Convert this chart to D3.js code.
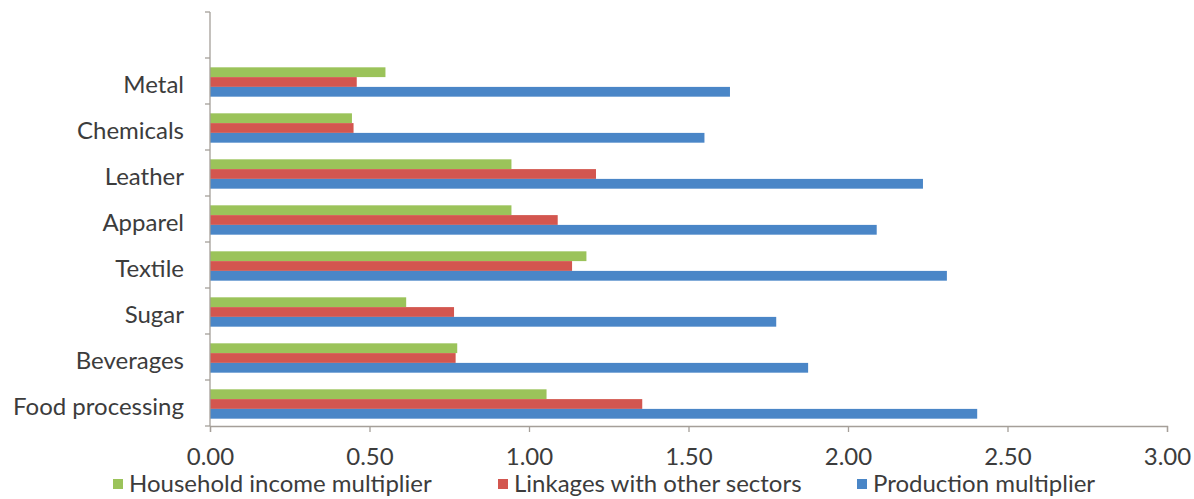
<!DOCTYPE html>
<html>
<head>
<meta charset="utf-8">
<script src="https://cdn.jsdelivr.net/npm/d3@7"></script>
<style>
  html, body { margin: 0; padding: 0; background: #ffffff; }
  svg { display: block; }
  text { font-family: Lato, "Open Sans", sans-serif; fill: #3c3c3c; }
</style>
</head>
<body>
<svg id="chart" width="1194" height="499"></svg>
<script>
// Sectors, listed top to bottom
const categories = ["Metal", "Chemicals", "Leather", "Apparel", "Textile", "Sugar", "Beverages", "Food processing"];

// Series, drawn top to bottom inside each sector
const seriesNames = ["Household income multiplier", "Linkages with other sectors", "Production multiplier"];
const householdIncome = [0.55, 0.445, 0.945, 0.945, 1.18, 0.615, 0.775, 1.055];
const linkages        = [0.46, 0.45, 1.21, 1.09, 1.135, 0.765, 0.77, 1.355];
const production      = [1.63, 1.55, 2.235, 2.09, 2.31, 1.775, 1.875, 2.405];
const seriesValues = [householdIncome, linkages, production];
const seriesColors = ["#9bc35a", "#d3564f", "#4a86c7"];

const xTicks = [0, 0.5, 1, 1.5, 2, 2.5, 3];

const svg = d3.select("#chart");
const axisColor = "#a59f99";
const fontSize = "24px";

const x = d3.scaleLinear().domain([0, 3]).range([210, 1167]);
const y = d3.scaleBand().domain(categories).range([58, 426]).paddingInner(0).paddingOuter(0);
const ySub = d3.scaleBand().domain(seriesNames).range([0, y.bandwidth()]).paddingInner(0).paddingOuter(0.85);

// Bars
const rows = categories.map((c, i) => ({ cat: c, vals: seriesNames.map((s, k) => ({ s, k, v: seriesValues[k][i] })) }));
const g = svg.append("g");
g.selectAll("g.row").data(rows).join("g")
  .attr("class", "row")
  .attr("transform", d => `translate(0,${y(d.cat) + 1})`)
  .selectAll("rect").data(d => d.vals).join("rect")
    .attr("x", x(0))
    .attr("y", d => ySub(d.s))
    .attr("width", d => x(d.v) - x(0))
    .attr("height", ySub.bandwidth())
    .attr("fill", d => seriesColors[d.k]);

// Category axis
const yAxis = svg.append("g")
  .attr("transform", `translate(${x(0)},3)`)
  .call(d3.axisLeft(y).tickSize(0).tickPadding(26));
yAxis.select(".domain").remove();
yAxis.selectAll(".tick text").style("font-size", fontSize).attr("fill", "#3c3c3c").attr("dy", "0.36em");
// Axis line and tick marks at category boundaries
svg.append("line")
  .attr("x1", x(0)).attr("x2", x(0))
  .attr("y1", 12).attr("y2", 426)
  .attr("stroke", axisColor).attr("stroke-width", 1.3);
const boundaries = [y.range()[0] - y.step()].concat(categories.map(c => y(c))).concat([y.range()[1]]);
svg.append("g").selectAll("line").data(boundaries).join("line")
  .attr("x1", x(0) - 5).attr("x2", x(0))
  .attr("y1", d => d).attr("y2", d => d)
  .attr("stroke", axisColor).attr("stroke-width", 1.3);

// Value axis
const xAxis = svg.append("g")
  .attr("transform", "translate(0,426)")
  .call(d3.axisBottom(x).tickValues(xTicks).tickFormat(d3.format(".2f")).tickSizeOuter(0).tickSize(6).tickPadding(16));
xAxis.select(".domain").attr("stroke", axisColor).attr("stroke-width", 1.3);
xAxis.selectAll(".tick line").attr("stroke", axisColor).attr("stroke-width", 1.3);
xAxis.selectAll(".tick text").style("font-size", fontSize).attr("fill", "#3c3c3c");

// Legend
const legendX = [113, 498, 857];
const legend = svg.append("g").selectAll("g").data(seriesNames).join("g")
  .attr("transform", (d, i) => `translate(${legendX[i]},483)`);
legend.append("rect")
  .attr("x", 0).attr("y", -4).attr("width", 10).attr("height", 10)
  .attr("fill", (d, i) => seriesColors[i]);
legend.append("text")
  .attr("x", 16).attr("y", 0).attr("dy", "0.36em")
  .style("font-size", fontSize)
  .text(d => d);
</script>
</body>
</html>
